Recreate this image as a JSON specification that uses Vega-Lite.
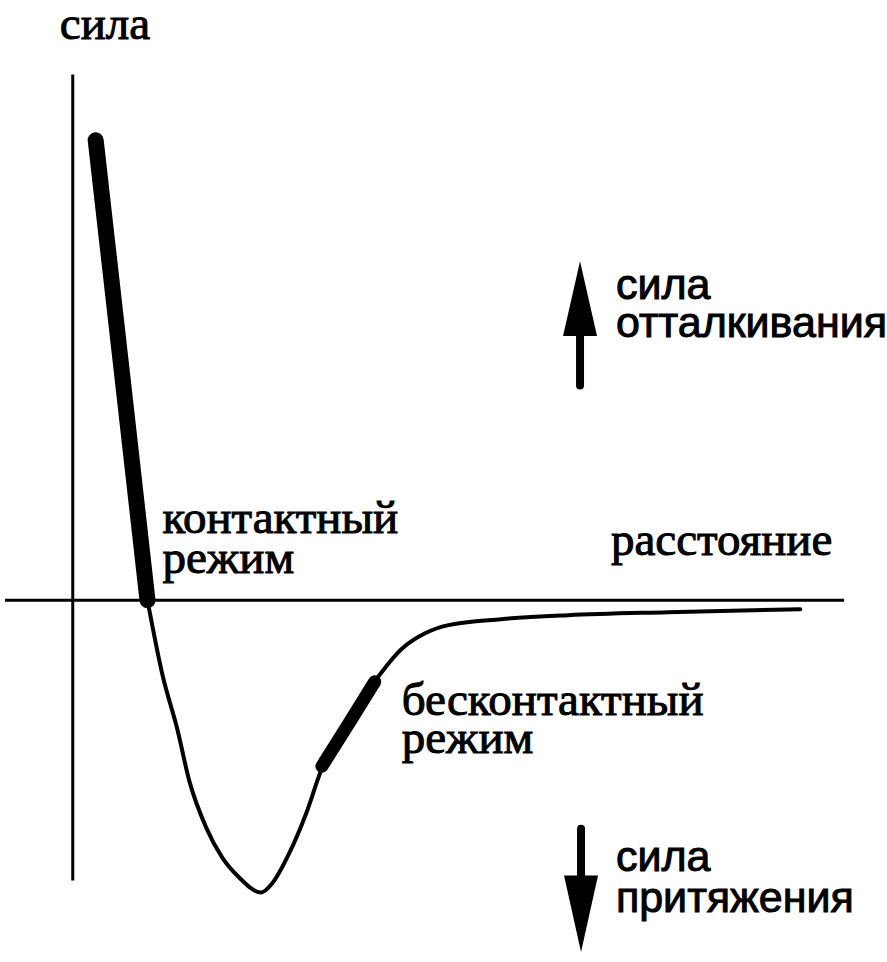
{
  "$schema": "https://vega.github.io/schema/vega-lite/v6.json",
  "width": 887,
  "height": 962,
  "padding": 0,
  "autosize": {"type": "fit", "contains": "padding"},
  "background": "white",
  "config": {"view": {"stroke": null}},
  "datasets": {
    "axes_v": [{"d": 0, "f": -282, "f2": 529}],
    "axes_h": [{"d": -68, "d2": 774, "f": 0}],
    "curve": [
      {"d": 75, "f": 0}, {"d": 90, "f": -75}, {"d": 105, "f": -130}, {"d": 117, "f": -182},
      {"d": 134, "f": -229}, {"d": 150, "f": -259}, {"d": 167, "f": -279}, {"d": 189, "f": -294},
      {"d": 200, "f": -285}, {"d": 217, "f": -255}, {"d": 234, "f": -215}, {"d": 250, "f": -169},
      {"d": 277, "f": -122}, {"d": 305, "f": -79}, {"d": 330, "f": -49}, {"d": 354, "f": -33},
      {"d": 377, "f": -25}, {"d": 430, "f": -19}, {"d": 497, "f": -15}, {"d": 597, "f": -12},
      {"d": 730, "f": -9}
    ],
    "contact": [{"d": 23, "f": 463}, {"d": 49, "f": 232}, {"d": 75, "f": 0}],
    "noncontact": [{"d": 250, "f": -167}, {"d": 277, "f": -124}, {"d": 303, "f": -82}],
    "stems": [{"d": 509, "f": 216, "f2": 268}, {"d": 510, "f": -230, "f2": -280}],
    "head_up": [{"d": 509, "f": 266}],
    "head_down": [{"d": 510, "f": -277}],
    "serif_labels": [
      {"d": -13, "f": 565, "label": "сила"},
      {"d": 90, "f": 68, "label": "контактный"},
      {"d": 90, "f": 27, "label": "режим"},
      {"d": 540, "f": 46, "label": "расстояние"},
      {"d": 330, "f": -115, "label": "бесконтактный"},
      {"d": 330, "f": -154, "label": "режим"}
    ],
    "sans_labels": [
      {"d": 545, "f": 303, "label": "сила"},
      {"d": 545, "f": 265, "label": "отталкивания"},
      {"d": 545, "f": -272, "label": "сила"},
      {"d": 545, "f": -314, "label": "притяжения"}
    ]
  },
  "layer": [
    {
      "data": {"name": "axes_v"},
      "mark": {"type": "rule", "color": "black", "strokeWidth": 3},
      "encoding": {
        "x": {"field": "d", "type": "quantitative", "scale": {"domain": [-73, 814], "nice": false, "zero": false}, "axis": null},
        "y": {"field": "f", "type": "quantitative", "scale": {"domain": [-364, 598], "nice": false, "zero": false}, "axis": null},
        "y2": {"field": "f2"}
      }
    },
    {
      "data": {"name": "axes_h"},
      "mark": {"type": "rule", "color": "black", "strokeWidth": 3},
      "encoding": {
        "x": {"field": "d", "type": "quantitative", "scale": {"domain": [-73, 814], "nice": false, "zero": false}, "axis": null},
        "x2": {"field": "d2"},
        "y": {"field": "f", "type": "quantitative", "scale": {"domain": [-364, 598], "nice": false, "zero": false}, "axis": null}
      }
    },
    {
      "data": {"name": "curve"},
      "mark": {"type": "line", "color": "black", "strokeWidth": 4, "strokeCap": "round", "strokeJoin": "round", "interpolate": "monotone"},
      "encoding": {
        "x": {"field": "d", "type": "quantitative", "scale": {"domain": [-73, 814], "nice": false, "zero": false}, "axis": null},
        "y": {"field": "f", "type": "quantitative", "scale": {"domain": [-364, 598], "nice": false, "zero": false}, "axis": null}
      }
    },
    {
      "data": {"name": "contact"},
      "mark": {"type": "line", "color": "black", "strokeWidth": 16, "strokeCap": "round"},
      "encoding": {
        "x": {"field": "d", "type": "quantitative", "scale": {"domain": [-73, 814], "nice": false, "zero": false}, "axis": null},
        "y": {"field": "f", "type": "quantitative", "scale": {"domain": [-364, 598], "nice": false, "zero": false}, "axis": null}
      }
    },
    {
      "data": {"name": "noncontact"},
      "mark": {"type": "line", "color": "black", "strokeWidth": 13, "strokeCap": "round", "interpolate": "monotone"},
      "encoding": {
        "x": {"field": "d", "type": "quantitative", "scale": {"domain": [-73, 814], "nice": false, "zero": false}, "axis": null},
        "y": {"field": "f", "type": "quantitative", "scale": {"domain": [-364, 598], "nice": false, "zero": false}, "axis": null}
      }
    },
    {
      "data": {"name": "stems"},
      "mark": {"type": "rule", "color": "black", "strokeWidth": 8, "strokeCap": "round"},
      "encoding": {
        "x": {"field": "d", "type": "quantitative", "scale": {"domain": [-73, 814], "nice": false, "zero": false}, "axis": null},
        "y": {"field": "f", "type": "quantitative", "scale": {"domain": [-364, 598], "nice": false, "zero": false}, "axis": null},
        "y2": {"field": "f2"}
      }
    },
    {
      "data": {"name": "head_up"},
      "mark": {"type": "point", "shape": "M-1,0L0,-4.4L1,0Z", "size": 1156, "filled": true, "opacity": 1, "color": "black", "strokeWidth": 0},
      "encoding": {
        "x": {"field": "d", "type": "quantitative", "scale": {"domain": [-73, 814], "nice": false, "zero": false}, "axis": null},
        "y": {"field": "f", "type": "quantitative", "scale": {"domain": [-364, 598], "nice": false, "zero": false}, "axis": null}
      }
    },
    {
      "data": {"name": "head_down"},
      "mark": {"type": "point", "shape": "M-1,0L0,4.5L1,0Z", "size": 1156, "filled": true, "opacity": 1, "color": "black", "strokeWidth": 0},
      "encoding": {
        "x": {"field": "d", "type": "quantitative", "scale": {"domain": [-73, 814], "nice": false, "zero": false}, "axis": null},
        "y": {"field": "f", "type": "quantitative", "scale": {"domain": [-364, 598], "nice": false, "zero": false}, "axis": null}
      }
    },
    {
      "data": {"name": "serif_labels"},
      "mark": {"type": "text", "font": "Liberation Serif", "fontSize": 47, "align": "left", "baseline": "alphabetic", "color": "black", "stroke": "black", "strokeWidth": 1},
      "encoding": {
        "x": {"field": "d", "type": "quantitative", "scale": {"domain": [-73, 814], "nice": false, "zero": false}, "axis": null},
        "y": {"field": "f", "type": "quantitative", "scale": {"domain": [-364, 598], "nice": false, "zero": false}, "axis": null},
        "text": {"field": "label"}
      }
    },
    {
      "data": {"name": "sans_labels"},
      "mark": {"type": "text", "font": "Liberation Sans", "fontSize": 43, "align": "left", "baseline": "alphabetic", "color": "black", "stroke": "black", "strokeWidth": 1},
      "encoding": {
        "x": {"field": "d", "type": "quantitative", "scale": {"domain": [-73, 814], "nice": false, "zero": false}, "axis": null},
        "y": {"field": "f", "type": "quantitative", "scale": {"domain": [-364, 598], "nice": false, "zero": false}, "axis": null},
        "text": {"field": "label"}
      }
    }
  ]
}
